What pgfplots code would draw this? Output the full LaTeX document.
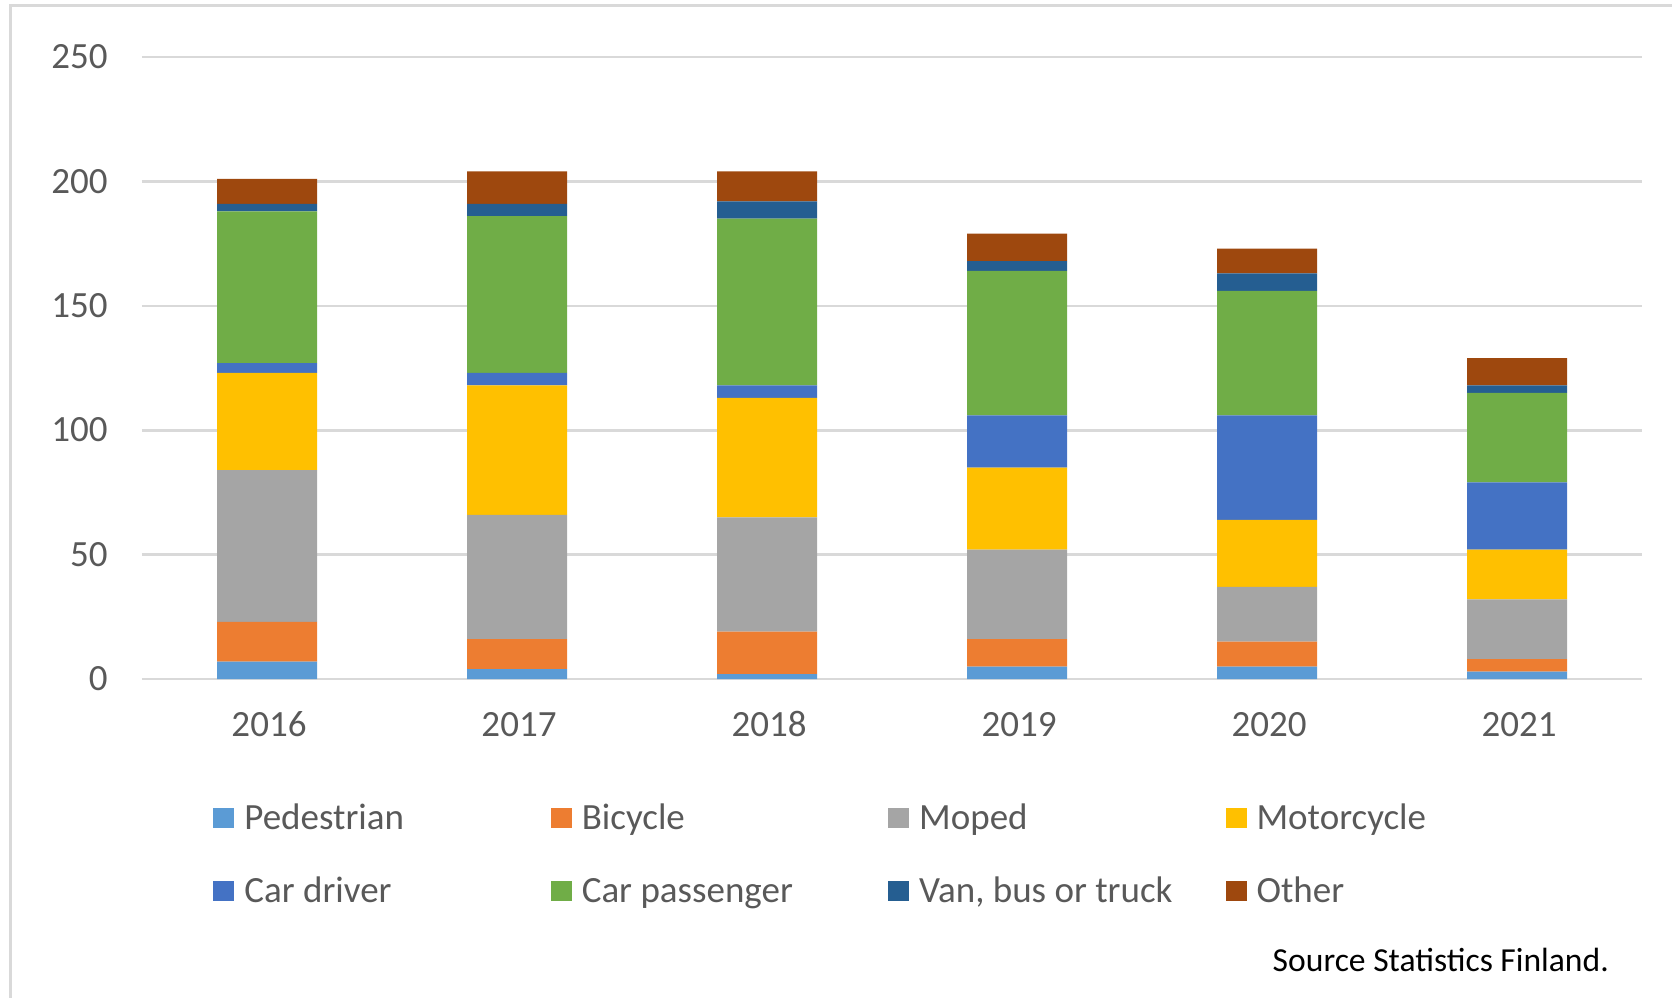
\documentclass[border=0pt]{standalone}
\usepackage{pgfplots}
\pgfplotsset{compat=1.18}
\usepackage{pgfplotstable}
\usepackage{fontspec}
\setmainfont{Carlito}
\definecolor{cPed}{HTML}{5B9BD5}
\definecolor{cBike}{HTML}{ED7D31}
\definecolor{cMoped}{HTML}{A5A5A5}
\definecolor{cMoto}{HTML}{FFC000}
\definecolor{cDriver}{HTML}{4472C4}
\definecolor{cPass}{HTML}{70AD47}
\definecolor{cVan}{HTML}{255E91}
\definecolor{cOther}{HTML}{9E480E}
\definecolor{gridc}{RGB}{217,217,217}
\definecolor{txt}{RGB}{89,89,89}
\pgfplotstableread{
x ped bike moped moto driver pass van other
0 7 16 61 39 4 61 3 10
1 4 12 50 52 5 63 5 13
2 2 17 46 48 5 67 7 12
3 5 11 36 33 21 58 4 11
4 5 10 22 27 42 50 7 10
5 3 5 24 20 27 36 3 11
}\data
\newcommand{\lf}{\fontsize{18.5}{22}\selectfont}
\newcommand{\srcf}{\fontsize{16.8}{20}\selectfont}
\newcommand{\legent}[1]{\makebox[153.2pt][l]{#1}}
\begin{document}
\begin{tikzpicture}
\useasboundingbox (0,0) rectangle (836pt,498.5pt);
\draw[gridc, line width=1.5pt] (5pt,-5pt) -- (5pt,495.65pt) -- (845pt,495.65pt);
\begin{axis}[
  at={(71pt,159pt)}, anchor=south west,
  scale only axis, width=750pt, height=311pt,
  ybar stacked, bar width=0.4,
  xmin=-0.5, xmax=5.5, ymin=0, ymax=250,
  xtick={0,1,2,3,4,5},
  xticklabels={2016,2017,2018,2019,2020,2021},
  ytick={0,50,100,150,200,250},
  ymajorgrids, grid style={gridc, line width=1.3pt},
  axis line style={draw=none},
  major tick length=0pt,
  /pgf/number format/assume math mode=true,
  tick label style={font=\lf, text=txt, inner sep=0pt},
  yticklabel style={anchor=base east, xshift=-17pt, yshift=-5.85pt},
  xticklabel style={anchor=base, xshift=1pt, yshift=-28.85pt},
  legend columns=4,
  legend style={at={(axis description cs:0.04734,-0.2818)}, anchor=west,
    draw=none, fill=none, inner sep=0pt, font=\lf, text=txt,
    row sep=24.45pt, column sep=0pt,
    nodes={inner sep=0pt, text height=12pt, text depth=0.3pt}},
  legend cell align=left,
  legend image code/.code={\fill[#1] (0pt,-5pt) rectangle (10.5pt,5pt); \path (15.5pt,0pt);},
]
\addplot[fill=cPed, draw=none] table[x=x,y=ped]{\data};
\addlegendentry{\legent{Pedestrian}}
\addplot[fill=cBike, draw=none] table[x=x,y=bike]{\data};
\addlegendentry{\legent{Bicycle}}
\addplot[fill=cMoped, draw=none] table[x=x,y=moped]{\data};
\addlegendentry{\legent{Moped}}
\addplot[fill=cMoto, draw=none] table[x=x,y=moto]{\data};
\addlegendentry{\legent{Motorcycle}}
\addplot[fill=cDriver, draw=none] table[x=x,y=driver]{\data};
\addlegendentry{\legent{Car driver}}
\addplot[fill=cPass, draw=none] table[x=x,y=pass]{\data};
\addlegendentry{\legent{Car passenger}}
\addplot[fill=cVan, draw=none] table[x=x,y=van]{\data};
\addlegendentry{\legent{Van, bus or truck}}
\addplot[fill=cOther, draw=none] table[x=x,y=other]{\data};
\addlegendentry{\legent{Other}}
\end{axis}
\node[anchor=base east, inner sep=0pt, font=\srcf, text=black] at (804.65pt,12.65pt) {Source Statistics Finland.};
\end{tikzpicture}
\end{document}
